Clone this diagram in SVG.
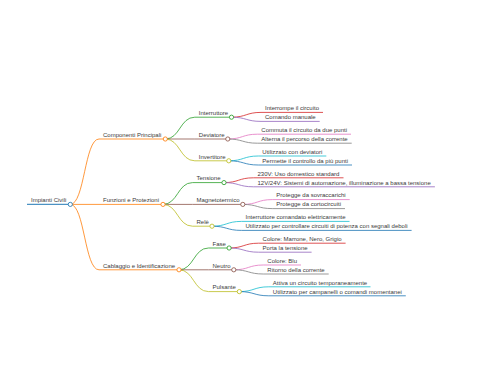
<svg xmlns="http://www.w3.org/2000/svg" width="480" height="384" viewBox="0 0 480 384">
<style>
text{font-family:"Liberation Sans",Arial,sans-serif;font-size:6px;fill:#3a3a3a}
path,line{fill:none;stroke-width:1;stroke-opacity:0.8}
circle{fill:#fff;stroke-width:1;stroke-opacity:0.85}
.c0{stroke:#1f77b4}.c1{stroke:#ff7f0e}.c2{stroke:#2ca02c}.c3{stroke:#d62728}.c4{stroke:#9467bd}
.c5{stroke:#8c564b}.c6{stroke:#e377c2}.c7{stroke:#7f7f7f}.c8{stroke:#bcbd22}.c9{stroke:#17becf}
</style>
<rect width="480" height="384" fill="#fff"/>
<g id="connectors">
<path class="c1" d="M70.3,204.4 C84.6,204.4 84.6,139 99,139"/>
<path class="c1" d="M70.3,204.4 L99,204.4"/>
<path class="c1" d="M70.3,204.4 C84.6,204.4 84.6,269.8 99,269.8"/>
<path class="c2" d="M165.3,139 C180,139 180,117.2 194.8,117.2"/>
<path class="c5" d="M165.3,139 L194.8,139"/>
<path class="c8" d="M165.3,139 C180,139 180,160.8 194.8,160.8"/>
<path class="c2" d="M163,204.4 C177.7,204.4 177.7,182.6 192.5,182.6"/>
<path class="c5" d="M163,204.4 L192.5,204.4"/>
<path class="c8" d="M163,204.4 C177.7,204.4 177.7,226.2 192.5,226.2"/>
<path class="c2" d="M179,269.8 C193.7,269.8 193.7,248 208.5,248"/>
<path class="c5" d="M179,269.8 L208.5,269.8"/>
<path class="c8" d="M179,269.8 C193.7,269.8 193.7,291.6 208.5,291.6"/>
<path class="c3" d="M231.5,117.2 C246.2,117.2 246.2,112.4 261,112.4"/>
<path class="c4" d="M231.5,117.2 C246.2,117.2 246.2,121.4 261,121.4"/>
<path class="c6" d="M227.8,139 C242.5,139 242.5,134.2 257.3,134.2"/>
<path class="c7" d="M227.8,139 C242.5,139 242.5,143.2 257.3,143.2"/>
<path class="c9" d="M228.8,160.8 C243.5,160.8 243.5,156 258.3,156"/>
<path class="c0" d="M228.8,160.8 C243.5,160.8 243.5,165 258.3,165"/>
<path class="c3" d="M224,182.6 C238.7,182.6 238.7,177.8 253.5,177.8"/>
<path class="c4" d="M224,182.6 C238.7,182.6 238.7,186.8 253.5,186.8"/>
<path class="c6" d="M242.8,204.4 C257.5,204.4 257.5,199.6 272.3,199.6"/>
<path class="c7" d="M242.8,204.4 C257.5,204.4 257.5,208.6 272.3,208.6"/>
<path class="c9" d="M212,226.2 C226.7,226.2 226.7,221.4 241.5,221.4"/>
<path class="c0" d="M212,226.2 C226.7,226.2 226.7,230.4 241.5,230.4"/>
<path class="c3" d="M229.1,248 C243.8,248 243.8,243.2 258.6,243.2"/>
<path class="c4" d="M229.1,248 C243.8,248 243.8,252.2 258.6,252.2"/>
<path class="c6" d="M233.8,269.8 C248.5,269.8 248.5,265 263.3,265"/>
<path class="c7" d="M233.8,269.8 C248.5,269.8 248.5,274 263.3,274"/>
<path class="c9" d="M239.3,291.6 C254,291.6 254,286.8 268.8,286.8"/>
<path class="c0" d="M239.3,291.6 C254,291.6 254,295.8 268.8,295.8"/>
</g>
<g id="root"><line class="c0" x1="27" y1="204.4" x2="70.3" y2="204.4" style="stroke-width:1.2"/><circle class="c0" cx="70.3" cy="204.4" r="2.1"/><text x="31" y="202.1">Impianti Civili</text></g>
<g id="componenti"><line class="c1" x1="99" y1="139" x2="165.3" y2="139"/><circle class="c1" cx="165.3" cy="139" r="2.1"/><text x="103" y="136.7">Componenti Principali</text></g>
<g id="funzioni"><line class="c1" x1="99" y1="204.4" x2="163" y2="204.4"/><circle class="c1" cx="163" cy="204.4" r="2.1"/><text x="103" y="202.1">Funzioni e Protezioni</text></g>
<g id="cablaggio"><line class="c1" x1="99" y1="269.8" x2="179" y2="269.8"/><circle class="c1" cx="179" cy="269.8" r="2.1"/><text x="103" y="267.5">Cablaggio e Identificazione</text></g>
<g id="interruttore"><line class="c2" x1="194.8" y1="117.2" x2="231.5" y2="117.2"/><circle class="c2" cx="231.5" cy="117.2" r="2.1"/><text x="198.8" y="114.9">Interruttore</text></g>
<g id="deviatore"><line class="c5" x1="194.8" y1="139" x2="227.8" y2="139"/><circle class="c5" cx="227.8" cy="139" r="2.1"/><text x="198.8" y="136.7">Deviatore</text></g>
<g id="invertitore"><line class="c8" x1="194.8" y1="160.8" x2="228.8" y2="160.8"/><circle class="c8" cx="228.8" cy="160.8" r="2.1"/><text x="198.8" y="158.5">Invertitore</text></g>
<g id="tensione"><line class="c2" x1="192.5" y1="182.6" x2="224" y2="182.6"/><circle class="c2" cx="224" cy="182.6" r="2.1"/><text x="196.5" y="180.3">Tensione</text></g>
<g id="magnetotermico"><line class="c5" x1="192.5" y1="204.4" x2="242.8" y2="204.4"/><circle class="c5" cx="242.8" cy="204.4" r="2.1"/><text x="196.5" y="202.1">Magnetotermico</text></g>
<g id="rele"><line class="c8" x1="192.5" y1="226.2" x2="212" y2="226.2"/><circle class="c8" cx="212" cy="226.2" r="2.1"/><text x="196.5" y="223.9">Relè</text></g>
<g id="fase"><line class="c2" x1="208.5" y1="248" x2="229.1" y2="248"/><circle class="c2" cx="229.1" cy="248" r="2.1"/><text x="212.5" y="245.7">Fase</text></g>
<g id="neutro"><line class="c5" x1="208.5" y1="269.8" x2="233.8" y2="269.8"/><circle class="c5" cx="233.8" cy="269.8" r="2.1"/><text x="212.5" y="267.5">Neutro</text></g>
<g id="pulsante"><line class="c8" x1="208.5" y1="291.6" x2="239.3" y2="291.6"/><circle class="c8" cx="239.3" cy="291.6" r="2.1"/><text x="212.5" y="289.3">Pulsante</text></g>
<g id="leaf-interrompe"><line class="c3" x1="261" y1="112.4" x2="323" y2="112.4"/><text x="265" y="110.1">Interrompe il circuito</text></g>
<g id="leaf-comando"><line class="c4" x1="261" y1="121.4" x2="319.7" y2="121.4"/><text x="265" y="119.1">Comando manuale</text></g>
<g id="leaf-commuta"><line class="c6" x1="257.3" y1="134.2" x2="351" y2="134.2"/><text x="261.3" y="131.9">Commuta il circuito da due punti</text></g>
<g id="leaf-alterna"><line class="c7" x1="257.3" y1="143.2" x2="351.7" y2="143.2"/><text x="261.3" y="140.9">Alterna il percorso della corrente</text></g>
<g id="leaf-utilizzato-dev"><line class="c9" x1="258.3" y1="156" x2="326.3" y2="156"/><text x="262.3" y="153.7">Utilizzato con deviatori</text></g>
<g id="leaf-permette"><line class="c0" x1="258.3" y1="165" x2="352" y2="165"/><text x="262.3" y="162.7">Permette il controllo da più punti</text></g>
<g id="leaf-230v"><line class="c3" x1="253.5" y1="177.8" x2="343.5" y2="177.8"/><text x="257.5" y="175.5">230V: Uso domestico standard</text></g>
<g id="leaf-12v"><line class="c4" x1="253.5" y1="186.8" x2="434.9" y2="186.8"/><text x="257.5" y="184.5">12V/24V: Sistemi di automazione, illuminazione a bassa tensione</text></g>
<g id="leaf-sovraccarichi"><line class="c6" x1="272.3" y1="199.6" x2="349.7" y2="199.6"/><text x="276.3" y="197.3">Protegge da sovraccarichi</text></g>
<g id="leaf-cortocircuiti"><line class="c7" x1="272.3" y1="208.6" x2="345" y2="208.6"/><text x="276.3" y="206.3">Protegge da cortocircuiti</text></g>
<g id="leaf-interruttore-comandato"><line class="c9" x1="241.5" y1="221.4" x2="349.5" y2="221.4"/><text x="245.5" y="219.1">Interruttore comandato elettricamente</text></g>
<g id="leaf-utilizzato-potenza"><line class="c0" x1="241.5" y1="230.4" x2="411.6" y2="230.4"/><text x="245.5" y="228.1">Utilizzato per controllare circuiti di potenza con segnali deboli</text></g>
<g id="leaf-colore-fase"><line class="c3" x1="258.6" y1="243.2" x2="345.6" y2="243.2"/><text x="262.6" y="240.9">Colore: Marrone, Nero, Grigio</text></g>
<g id="leaf-porta"><line class="c4" x1="258.6" y1="252.2" x2="311.6" y2="252.2"/><text x="262.6" y="249.9">Porta la tensione</text></g>
<g id="leaf-colore-blu"><line class="c6" x1="263.3" y1="265" x2="301" y2="265"/><text x="267.3" y="262.7">Colore: Blu</text></g>
<g id="leaf-ritorno"><line class="c7" x1="263.3" y1="274" x2="328.7" y2="274"/><text x="267.3" y="271.7">Ritorno della corrente</text></g>
<g id="leaf-attiva"><line class="c9" x1="268.8" y1="286.8" x2="370.5" y2="286.8"/><text x="272.8" y="284.5">Attiva un circuito temporaneamente</text></g>
<g id="leaf-campanelli"><line class="c0" x1="268.8" y1="295.8" x2="405.8" y2="295.8"/><text x="272.8" y="293.5">Utilizzato per campanelli o comandi momentanei</text></g>
</svg>
